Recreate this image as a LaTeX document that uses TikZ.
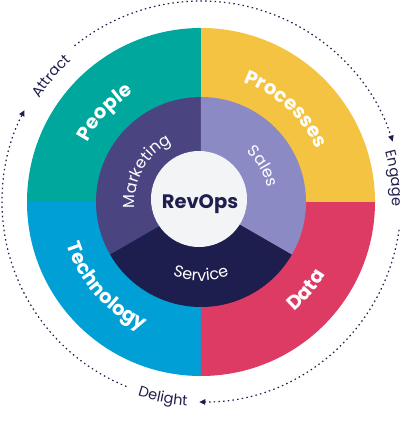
\documentclass[tikz,border=0pt]{standalone}
\usepackage{fontspec}
\setmainfont{Poppins}
\usetikzlibrary{decorations.text,arrows.meta}

\definecolor{peopleteal}{HTML}{00A79D}
\definecolor{procyellow}{HTML}{F5C342}
\definecolor{datared}{HTML}{DD3A64}
\definecolor{techblue}{HTML}{00A0D6}
\definecolor{mktpurple}{HTML}{4A4580}
\definecolor{salesviolet}{HTML}{8C8AC4}
\definecolor{servnavy}{HTML}{1E1E4E}
\definecolor{centregrey}{HTML}{F3F4F6}
\definecolor{inknavy}{HTML}{1F1E4E}

\newcommand{\outerfont}{\bfseries\fontsize{19.5}{19.5}\selectfont}
\newcommand{\innerfont}{\fontsize{16}{16}\selectfont}
\newcommand{\cyclefont}{\fontsize{14.5}{14.5}\selectfont}

\begin{document}
\begin{tikzpicture}[x=1pt,y=1pt,
    arclabel/.style 2 args={decorate, decoration={text along path,
        text align=center, text color=#1, text={#2}}},
    cycleline/.style={inknavy, line width=1.2pt,
        dash pattern=on 1.5pt off 3.2pt,
        -{Triangle[length=6pt,width=5.5pt]}}]
    \useasboundingbox (-201,-222) rectangle (201,202);

    % outer ring
    \foreach \a/\c in {0/procyellow,90/peopleteal,180/techblue,270/datared}
        \fill[\c] (0,0) -- (\a:174) arc[start angle=\a, delta angle=90, radius=174] -- cycle;
    % inner ring
    \foreach \a/\c in {90/mktpurple,210/servnavy,330/salesviolet}
        \fill[\c] (0,0) -- (\a:105) arc[start angle=\a, delta angle=120, radius=105] -- cycle;
    \node[circle, fill=centregrey, minimum size=96pt, inner sep=0pt] (hub) at (-2,3) {};
    \node[text=inknavy, font=\bfseries\fontsize{19.5}{19.5}\selectfont] (revops) at (-1,-2.5) {RevOps};

    % ring labels
    \path[arclabel={white}{|\outerfont|People}] (177:128) arc[start angle=177, end angle=97, radius=128];
    \path[arclabel={white}{|\outerfont|Processes}] (87.5:127) arc[start angle=87.5, end angle=7.5, radius=127];
    \path[arclabel={white}{|\outerfont|Technology}] (181.5:141) arc[start angle=181.5, end angle=261.5, radius=141];
    \path[arclabel={white}{|\outerfont|Data}] (-80:144) arc[start angle=-80, end angle=0, radius=144];
    \path[arclabel={white}{|\innerfont|Marketing}] (191:66) arc[start angle=191, end angle=111, radius=66];
    \path[arclabel={white}{|\innerfont|Sales}] (70:68) arc[start angle=70, end angle=-10, radius=68];
    \path[arclabel={white}{|\innerfont|Service}] (230:79) arc[start angle=230, end angle=310, radius=79];

    % customer cycle
    \draw[cycleline] (129:201) arc[start angle=129, end angle=17.5, radius=201];
    \draw[cycleline] (-8:200) arc[start angle=-8, end angle=-90.5, radius=200];
    \draw[cycleline] (-112:199) arc[start angle=-112, end angle=-207.5, radius=199];
    \path[arclabel={inknavy}{|\cyclefont|Attract}] (180:192) arc[start angle=180, end angle=100, radius=192];
    \path[arclabel={inknavy}{|\cyclefont|Engage}] (47:191) arc[start angle=47, end angle=-33, radius=191];
    \path[arclabel={inknavy}{|\cyclefont|Delight}] (-141:204) arc[start angle=-141, end angle=-61, radius=204];
\end{tikzpicture}
\end{document}
